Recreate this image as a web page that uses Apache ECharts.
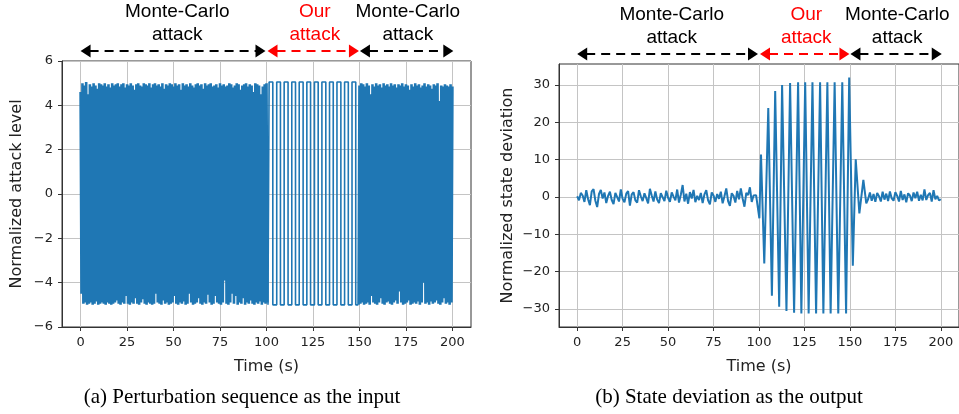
<!DOCTYPE html>
<html>
<head>
<meta charset="utf-8">
<script src="https://cdn.jsdelivr.net/npm/echarts@6/dist/echarts.min.js"></script>
<style>
  html, body { margin: 0; padding: 0; background: #fff; }
  #chart { width: 959px; height: 414px; }
</style>
</head>
<body>
<div id="chart"></div>
<script>
// ---- data ----
const xTicks = [0, 25, 50, 75, 100, 125, 150, 175, 200];
const leftYTicks = [-6, -4, -2, 0, 2, 4, 6];
const rightYTicks = [-30, -20, -10, 0, 10, 20, 30];

// (a) Monte-Carlo noise, 0..100 s: peaks at t = 0,1,..,100 and troughs at t = 0.5,1.5,..,100.5
const noiseTopA = [4.6, 5.0, 4.9, 5.05, 4.5, 4.95, 4.85, 5.0, 4.9, 4.75, 5.0, 4.95, 4.9, 5.0, 4.85, 4.95, 4.8, 5.0, 4.9, 4.95,
  5.0, 4.85, 4.95, 5.0, 4.8, 4.95, 4.9, 5.0, 4.9, 4.7, 4.95, 5.0, 4.9, 4.85, 5.0, 4.95, 4.9, 5.0, 4.8, 4.95,
  5.0, 4.9, 4.95, 4.85, 5.0, 4.75, 4.95, 4.9, 5.0, 4.95, 4.85, 5.0, 4.9, 4.95, 4.7, 5.0, 4.9, 4.95, 4.85, 5.0,
  4.9, 4.8, 4.95, 5.0, 4.9, 4.95, 4.75, 5.0, 4.9, 4.95, 5.0, 4.85, 4.9, 4.95, 4.8, 5.0, 4.9, 4.95, 4.85, 4.9,
  5.0, 4.95, 4.8, 4.9, 5.0, 4.95, 4.7, 4.9, 4.95, 5.0, 4.85, 4.95, 4.9, 4.6, 5.0, 4.95, 4.9, 4.5, 4.85, 4.95, 5.0];
const noiseBotA = [-4.5, -4.95, -4.9, -5.0, -4.95, -4.9, -5.0, -4.95, -4.85, -5.0, -4.95, -4.9, -4.95, -5.0, -4.9, -4.95, -5.0, -4.95, -4.9, -4.8,
  -4.95, -5.0, -4.9, -4.95, -4.6, -4.95, -5.0, -4.9, -4.95, -4.7, -4.95, -5.0, -4.9, -4.75, -4.95, -5.0, -4.9, -4.95, -5.0, -4.95,
  -4.5, -4.9, -4.95, -5.0, -4.8, -4.95, -4.9, -5.0, -4.95, -4.9, -4.6, -4.95, -5.0, -4.9, -4.95, -4.85, -5.0, -4.95, -4.5, -4.9,
  -5.0, -4.95, -4.9, -4.7, -4.95, -5.0, -4.9, -4.95, -4.55, -4.9, -5.0, -4.95, -4.6, -4.9, -4.95, -5.0, -4.9, -3.9, -4.95, -5.0,
  -4.9, -4.5, -4.95, -4.6, -5.0, -4.9, -4.95, -4.7, -5.0, -4.9, -4.95, -4.8, -4.95, -5.0, -4.9, -4.95, -4.85, -5.0, -4.9, -4.95, -4.9];

// (a) our attack: square wave switching times (s), starting low
const squareEdges = [100.8, 101.4, 103.4, 105.5, 107.5, 109.5, 111.6, 113.6, 115.6, 117.6, 119.7, 121.7, 123.7,
  125.8, 127.8, 129.8, 131.9, 133.9, 135.9, 137.9, 140.0, 142.0, 144.0, 146.0, 148.0, 149.4];
const squareLevels = [-5.0, 5.05];

// (a) Monte-Carlo noise, 150..200 s: troughs at t = 149.5,..,199.5 and peaks at t = 150,..,200
const noiseBotB = [-5.0, -4.95, -4.9, -5.0, -4.95, -4.9, -5.0, -4.6, -4.9, -4.95, -5.0, -4.9, -4.7, -4.95, -5.0, -4.9, -4.85,
  -4.95, -5.0, -4.9, -4.8, -4.95, -4.4, -4.9, -5.0, -4.95, -4.9, -4.8, -5.0, -4.95, -4.9, -4.95, -4.85, -5.0,
  -4.9, -4.0, -4.95, -4.9, -5.0, -4.85, -4.95, -4.9, -4.8, -4.95, -5.0, -4.9, -4.7, -4.95, -4.9, -5.0, -4.9];
const noiseTopB = [4.9, 5.0, 4.95, 4.85, 5.0, 4.9, 4.5, 4.95, 4.85, 5.0, 4.9, 4.95, 4.8, 5.0, 4.9, 4.95, 4.85,
  5.0, 4.9, 4.95, 4.8, 4.95, 4.9, 5.0, 4.85, 4.95, 4.9, 4.7, 4.95, 4.85, 5.0, 4.9, 4.95, 4.8,
  4.9, 5.0, 4.85, 4.95, 4.9, 4.75, 4.95, 4.9, 5.0, 4.2, 4.9, 4.85, 4.95, 4.9, 4.85, 4.95, 4.85];

// (b) state deviation, 1 s samples from t = 0
const statePre = [0.2, -0.9, 1.1, 0.4, -1.3, 1.8, -0.6, -2.2, 1.5, 2.1, -1.0, -2.7, 0.8, 1.9, -0.4, 1.2, -1.6, 0.3, 1.4, -0.8,
  -1.9, 1.1, 0.6, -1.2, 2.0, -0.5, -1.4, 0.9, 1.6, -2.3, 0.7, 1.3, -0.9, -1.5, 1.8, 0.2, -1.1, 1.0, -0.3, -1.7,
  2.2, 0.4, -1.2, 1.5, -0.7, -1.6, 1.0, 0.5, -1.1, 1.7, -0.2, -1.3, 1.2, 0.1, -0.9, 2.0, -1.5, 0.6, 3.2, -1.2,
  0.9, -1.8, 1.3, -0.4, 1.9, -1.4, 0.3, -0.8, 1.1, -1.6, 0.7, 1.8, -0.9, -2.0, 1.2, 0.4, -1.3, 0.8, -0.5, 1.4,
  -1.7, 0.2, 2.3, -1.1, -2.4, 1.0, 0.3, -1.5, 1.6, -0.6, 2.3, -0.4, -2.6, 1.1, 0.5, 2.6, -1.3, 0.4];
// (b) peaks and troughs during our attack [t, value]
const stateAttack = [[98.4, 0.5], [100.2, -5.7], [101.1, 11.4], [102.9, -17.8], [105.1, 23.8], [107.1, -26.4],
  [108.9, 28.4], [111.1, -29.4], [112.7, 30.0], [115.1, -30.5], [117.1, 30.5], [119.3, -31.0], [121.5, 30.7],
  [123.3, -31.2], [125.4, 30.7], [127.3, -31.2], [129.4, 30.7], [131.4, -31.2], [133.6, 30.7], [135.4, -31.2],
  [137.6, 30.7], [139.4, -31.2], [141.6, 30.7], [143.6, -31.2], [145.8, 30.7], [147.9, -31.2], [149.6, 32.0],
  [151.6, -18.4], [153.2, 10.1], [155.2, -4.4], [157.4, 4.6], [159.0, -1.7]];
// (b) 1 s samples from t = 160
const statePost = [-0.6, 1.2, -1.0, 0.8, -1.3, 1.1, 0.2, -1.2, 1.4, -0.7, 0.9, -1.1, 1.5, -0.4, -1.0, 1.3, 0.3, -1.2,
  1.6, -0.8, 0.7, -1.4, 1.0, 0.4, -1.1, 1.2, -0.3, 1.4, -1.0, 0.6, -0.9, 2.0, -0.8, 0.5, 1.1, -1.2, 1.8, -0.6,
  0.3, -0.9, -0.6];

// ---- build series ----
const noiseA = [];
noiseTopA.forEach((v, i) => {
  noiseA.push([i, v]);
  noiseA.push([i + 0.5, noiseBotA[i]]);
});
const square = [];
for (let i = 0; i < squareEdges.length - 1; i++) {
  const lv = squareLevels[i % 2];
  square.push([squareEdges[i], lv]);
  square.push([squareEdges[i + 1], lv]);
}
const noiseB = [];
noiseBotB.forEach((v, i) => {
  noiseB.push([149.5 + i, v]);
  noiseB.push([150 + i, noiseTopB[i]]);
});

const outputData = [];
statePre.forEach((v, i) => outputData.push([i, v]));
stateAttack.forEach(p => outputData.push(p));
statePost.forEach((v, i) => outputData.push([160 + i, v]));

const BLUE = '#1f77b4';
const TXT = '#222';
const FONT = 'DejaVu Sans';
const minus = v => String(v).replace('-', '\u2212');

function xAxisOpt(gridIndex) {
  return {
    type: 'value', gridIndex: gridIndex, min: -10, max: 210,
    name: 'Time (s)', nameLocation: 'middle', nameGap: 32,
    nameTextStyle: { fontSize: 16, color: TXT, fontFamily: FONT },
    axisLine: { onZero: false, lineStyle: { color: '#333', width: 1 } },
    axisTick: { customValues: xTicks, length: 4, lineStyle: { color: '#333' } },
    axisLabel: { customValues: xTicks, fontSize: 13, color: TXT, fontFamily: FONT, margin: 9.5 },
    splitLine: { show: true, lineStyle: { color: '#c4c4c4', width: 1 } }
  };
}
function yAxisOpt(gridIndex, min, max, ticks, name, gap) {
  return {
    type: 'value', gridIndex: gridIndex, min: min, max: max,
    name: name, nameLocation: 'middle', nameGap: gap, nameRotate: 90,
    nameTextStyle: { fontSize: 16, color: TXT, fontFamily: FONT },
    axisLine: { show: true, onZero: false, lineStyle: { color: '#333', width: 1 } },
    axisTick: { show: true, customValues: ticks, length: 4, lineStyle: { color: '#333' } },
    axisLabel: { customValues: ticks, fontSize: 13, color: TXT, fontFamily: FONT, margin: 9, formatter: minus },
    splitLine: { show: true, lineStyle: { color: '#c4c4c4', width: 1 } }
  };
}
function lineSeries(axis, data, width) {
  return { type: 'line', xAxisIndex: axis, yAxisIndex: axis, data: data, showSymbol: false,
    lineStyle: { color: BLUE, width: width }, itemStyle: { color: BLUE } };
}

const chart = echarts.init(document.getElementById('chart'), null, { renderer: 'canvas' });
chart.setOption({
  animation: false,
  grid: [
    { left: 62, top: 61, width: 409, height: 266, show: true, borderColor: '#333', borderWidth: 1 },
    { left: 559, top: 64, width: 404, height: 263, show: true, borderColor: '#333', borderWidth: 1 }
  ],
  xAxis: [xAxisOpt(0), xAxisOpt(1)],
  yAxis: [
    yAxisOpt(0, -6, 6, leftYTicks, 'Normalized attack level', 37),
    yAxisOpt(1, -34.8, 35.6, rightYTicks, 'Normalized state deviation', 43)
  ],
  series: [
    lineSeries(0, noiseA, 2.6),
    lineSeries(0, square, 1.6),
    lineSeries(0, noiseB, 2.6),
    lineSeries(1, outputData, 2)
  ]
});

// ---- annotations above each plot, placed from data coordinates ----
function arrow(xa, xb, y, color) {
  return [
    { type: 'line', shape: { x1: xa + 9, y1: y, x2: xb - 9, y2: y },
      style: { stroke: color, lineWidth: 2, lineDash: [9, 6] } },
    { type: 'polygon', shape: { points: [[xa, y], [xa + 10, y - 6.5], [xa + 10, y + 6.5]] }, style: { fill: color } },
    { type: 'polygon', shape: { points: [[xb, y], [xb - 10, y - 6.5], [xb - 10, y + 6.5]] }, style: { fill: color } }
  ];
}
function label(x, y, text, color) {
  return { type: 'text', x: x, y: y,
    style: { text: text, fill: color, font: '19px "Liberation Sans", Arial, sans-serif',
      textAlign: 'center', textVerticalAlign: 'middle' } };
}
const graphics = [];
[0, 1].forEach(g => {
  const top = chart.convertToPixel({ gridIndex: g }, [0, g === 0 ? 6 : 35.6])[1];
  const px = t => chart.convertToPixel({ gridIndex: g }, [t, 0])[0];
  const ay = top - 10;
  graphics.push(...arrow(px(0), px(100) - 1, ay, '#000'));
  graphics.push(...arrow(px(100) + 1, px(150) - 0.5, ay, '#ff0000'));
  graphics.push(...arrow(px(150) + 0.5, px(200.5), ay, '#000'));
  [[px(52), '#000', 'Monte-Carlo'], [px(126), '#ff0000', 'Our'], [px(176), '#000', 'Monte-Carlo']].forEach(a => {
    graphics.push(label(a[0], top - 49.5, a[2], a[1]));
    graphics.push(label(a[0], top - 26.5, 'attack', a[1]));
  });
});
graphics.push({ type: 'text', x: 242, y: 397,
  style: { text: '(a) Perturbation sequence as the input', fill: '#000',
    font: '21px "Liberation Serif", "Times New Roman", serif', textAlign: 'center', textVerticalAlign: 'middle' } });
graphics.push({ type: 'text', x: 729, y: 397,
  style: { text: '(b) State deviation as the output', fill: '#000',
    font: '21px "Liberation Serif", "Times New Roman", serif', textAlign: 'center', textVerticalAlign: 'middle' } });
chart.setOption({ graphic: graphics });
</script>
</body>
</html>
